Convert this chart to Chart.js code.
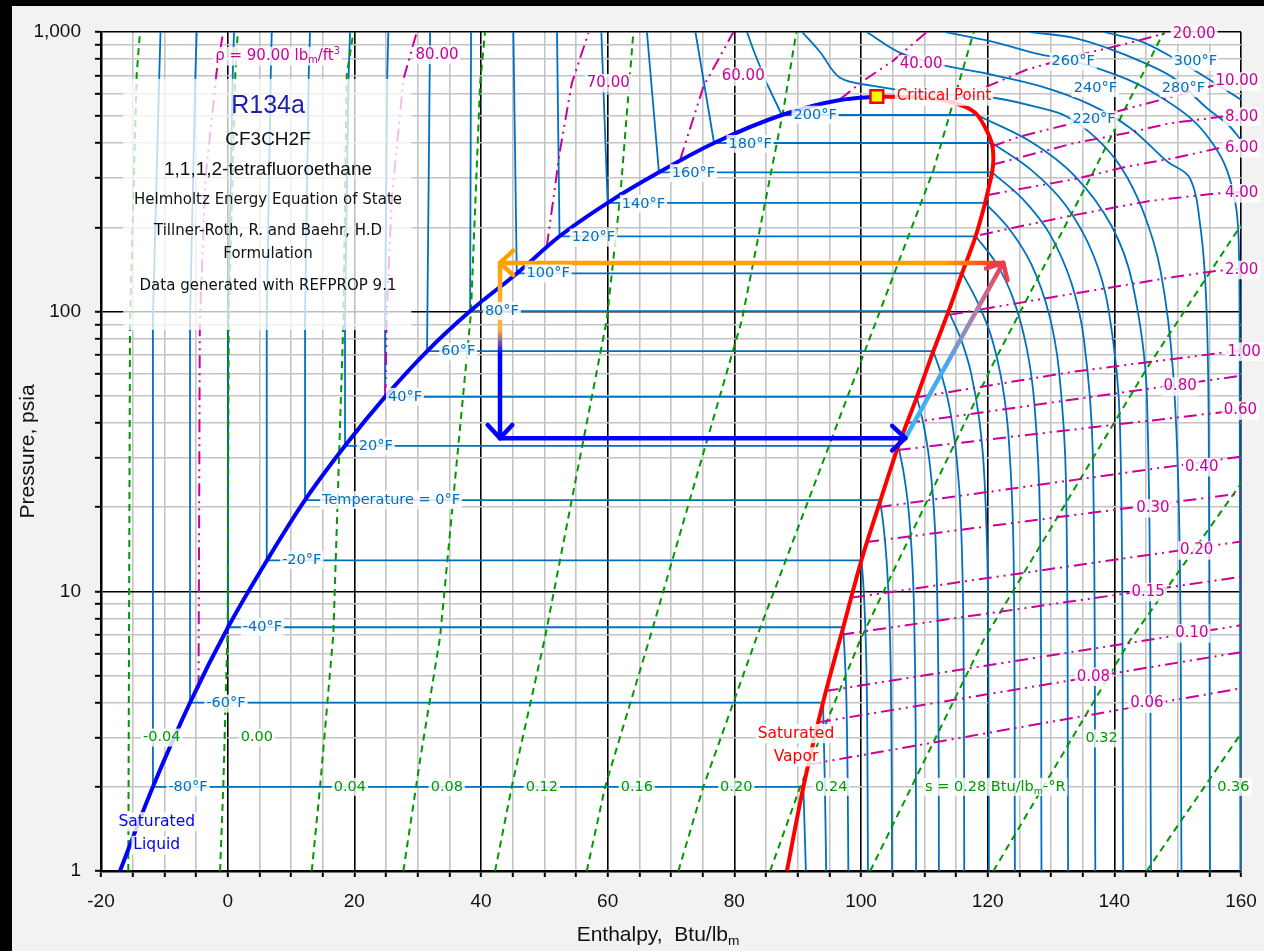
<!DOCTYPE html>
<html>
<head>
<meta charset="utf-8">
<script src="https://cdn.jsdelivr.net/npm/chart.js@4.4.1/dist/chart.umd.min.js"></script>
<style>
html, body { margin: 0; padding: 0; background: #000; }
#wrap { position: absolute; left: 12px; top: 6px; width: 1252px; height: 945px; background: #f2f2f2; }
</style>
</head>
<body>
<div id="wrap"><canvas id="myChart" width="1252" height="945"></canvas></div>
<script>
// axis ticks
const hTicks = [-20,-15,-10,-5,0,5,10,15,20,25,30,35,40,45,50,55,60,65,70,75,80,85,90,95,100,105,110,115,120,125,130,135,140,145,150,155,160];
const pTicks = [1,2,3,4,5,6,7,8,9,10,20,30,40,50,60,70,80,90,100,200,300,400,500,600,700,800,900,1000];
const pTickLabels = {1: '1', 10: '10', 100: '100', 1000: '1,000'};

// saturation dome (h in Btu/lbm, P in psia)
const satLiqH = [-17.0,-11.8,-5.94,0.06,6.2,12.2,18.5,24.85,31.5,38.3,45.65,52.4,60.0,68.1,76.8,87.5,96.7,102.5];
const satLiqP = [1,2.0,4.0,7.44,12.9,21.2,33.1,49.6,72.3,100.5,137,186,245,315,401,505,571,588];
const satVapH = [102.5,108,112.5,116.2,118.3,119.9,120.7,120.9,120.7,120.2,119.6,118.1,116.0,113.8,111.4,108.8,105.9,103.0,100.1,97.2,94.0,90.9,88.3];
const satVapP = [588,585,574,543,507,442,396,350,315,280,245,186,138,100,72,49.4,33.1,20.9,13.0,7.44,4.0,2.0,1];
const critH = 102.5, critP = 588;

// isotherms below the critical point: liquid branch, then superheated branch
const isoT = [-80,-60,-40,-20,0,20,40,60,80,100,120,140,160,180,200];
const isoTLiqH = [
  [-10.6,-10.8,-11.8,-11.8], [-4.89,-5.1,-5.94,-5.94], [1.0,0.8,0.06,0.06], [6.96,6.8,6.17,6.17],
  [13.0,12.8,12.22,12.22], [19.32,19.1,18.53,18.53], [25.37,25.2,24.85,24.85],
  [31.96,31.48], [38.43,38.28], [45.11,45.65], [52.0,52.4], [59.0,60.0], [66.2,68.1], [73.86,76.8],
  [82.0,83.0,85.1,87.5]
];
const isoTLiqP = [
  [1000,700,95,2.0], [1000,700,95,4.0], [1000,700,95,7.44], [1000,700,95,12.9],
  [1000,700,95,21.2], [1000,700,95,33.1], [1000,700,95,49.6],
  [1000,72.3], [1000,100.5], [1000,137], [1000,186], [1000,245], [1000,315], [1000,401],
  [1000,864,656,505]
];
const isoTSupH = [
  [90.9,91.3], [94.0,94.3,94.5], [97.2,97.65,97.9,98.0],
  [100.1,100.4,100.66,100.87,100.99,101.1],
  [103.0,103.57,104.06,104.46,104.69,104.85,104.9],
  [105.9,106.74,107.47,108.06,108.39,108.63,108.7],
  [108.8,109.85,110.76,111.5,111.92,112.21,112.3],
  [111.4,112.87,114.14,115.17,115.77,116.18,116.3],
  [113.8,115.72,117.38,118.73,119.5,120.04,120.2],
  [116.0,118.28,120.52,122.32,123.36,124.09,124.3],
  [118.1,121.36,124.01,126.15,127.39,128.25,128.5],
  [119.6,123.53,126.94,129.69,131.27,132.37,132.7],
  [120.7,125.59,129.83,133.25,135.22,136.59,137.0],
  [120.7,126.91,132.29,136.64,139.14,140.88,141.4],
  [118.3,126.9,133.92,139.59,142.86,145.13,145.8]
];
const isoTSupP = [
  [2.0,1], [4.0,2,1], [7.44,4.5,2,1],
  [12.9,10.3,7.7,5.2,3.2,1],
  [21.2,17,12.7,8.5,5.3,2.1,1],
  [33.1,26.5,19.9,13.2,8.3,3.3,1],
  [49.6,39.7,29.8,19.8,12.4,5,1],
  [72.3,57.8,43.4,28.9,18.1,7.2,1],
  [100.5,80.4,60.3,40.2,25.1,10.1,1],
  [137,109.6,82.2,54.8,34.3,13.7,1],
  [186,148.8,111.6,74.4,46.5,18.6,1],
  [245,196,147,98,61.3,24.5,1],
  [315,252,189,126,78.8,31.5,1],
  [401,320.8,240.6,160.4,100.3,40.1,1],
  [505,404,303,202,126.3,50.5,1]
];

// supercritical isotherms
const superT = [220,240,260,280,300];
const superH = [
  [90.7,93.5,96.7,101.9,110,120.9,128.3,132.4,137,141,144.5,147.3,149.3,150.3,150.6],
  [100.9,106.2,112.5,120.4,128.3,136.2,142.5,148.3,151.9,153.6,154.5,154.9,155.1],
  [113.3,120.4,128.3,133.6,141.5,146.7,152.0,155.5,157.8,159.3,159.7,159.8,159.9],
  [126.7,133.6,138.8,144.1,149.35,154.6,158,160],
  [138.3,144.1,149.3,154.6,160]
];
const superP = [
  [1000,850,686,642,605,582,535,500,420,330,230,140,60,15,1],
  [1000,842,765,705,640,550,454,345,301,200,110,40,1],
  [1000,927,831,787,685,597,493,400,320,230,150,50,1],
  [1000,953,878,787,685,535,465,411],
  [1000,927,808,685,573]
];

// isentropes, s in Btu/lbm-R
const entS = [-0.04,0.00,0.04,0.08,0.12,0.16,0.20,0.24,0.28,0.32,0.36];
const entH = [
  [-15.69,-15.42,-14.36,-13.84],
  [-1.2,-0.69,0.0,0.17,1.2,1.6],
  [13.28,14.59,16.69,18.27,18.8,19.85],
  [27.74,30.38,33.54,38.4,39.86,40.64],
  [42.22,44.86,50.12,59.86,62.0,64.06],
  [56.7,59.6,66.7,81.2,87.75,89.8],
  [71.17,75.1,83.55,99.87,111.45,117.8],
  [85.65,90.4,96.2,99.87,120.9,136.5,147.8],
  [101.45,119.35,145.15,160],
  [120.9,142.5,160],
  [145.1,160]
];
const entP = [
  [1,92,710,1000],
  [1,2,7.4,95,700,1000],
  [1,2,7.06,92,700,1000],
  [1,2.49,6.87,98,656,1000],
  [1,2,6.87,93.4,261,1000],
  [1,2,6.87,93.4,527,1000],
  [1,2,6.87,65.4,321,1000],
  [1,2,4.19,6.69,65.4,310,1000],
  [1,6.69,62.8,204],
  [1,6.69,24.3],
  [1,3.1]
];

// isochores, rho in lbm/ft3
const rhoV = [90,80,70,60,40,20,10,8,6,4,2,1,0.8,0.6,0.4,0.3,0.2,0.15,0.10,0.08,0.06];
const rhoH = [
  [-4.6,-4.4,-3.5,-1.73,-0.7],
  [24.9,25.12,25.9,27.74,29.86],
  [50.39,52.49,54.34,56.96],
  [71.44,75.12,79.86],
  [96.7,100.4,105.1,110.4],
  [115.1,126.2,134.6,142.5,148.8],
  [120.7,125.1,133.5,141.4,149.3,156.2,158.5],
  [120.7,125.65,133.55,141.98,148.82,157.24,159.35],
  [119.9,125.65,133.55,141.98,149.35,156.2,160],
  [118.8,132.5,145.67,155.7,160],
  [114.1,133.55,149.35,156.2,160],
  [108.8,133.55,158.3,160],
  [107.3,160], [105.8,160], [102.8,160], [100.8,160], [98.6,160],
  [96.9,160], [94.4,160], [93.2,160], [91.6,160]
];
const rhoP = [
  [4.5,90,300,725,1000],
  [49.5,98.6,251,675,1000],
  [171,379,656,991],
  [349,638,1000],
  [575,670,790,1000],
  [574,734,830,915,1000],
  [390,423,472,527,588,649,665],
  [335,358.6,400,435,472,499,505],
  [261,276,297,330,354,383,390],
  [188,219,249,264,268],
  [97.6,116,133,140,142],
  [49.4,61.0,71.9,73],
  [40,59], [32,44.5], [20,30.3], [15,22.4], [9.5,15.06],
  [7.0,11.27], [4.4,7.56], [3.4,6.06], [2.4,4.5]
];

// refrigeration cycle: condenser, expansion, evaporator, compressor
const cycleH = [122.45,43.0,43.0,107.0,122.45];
const cycleP = [149.4,149.4,35.3,35.3,149.4];

// labels
const tLabelText = ['-80°F','-60°F','-40°F','-20°F','Temperature = 0°F','20°F','40°F','60°F','80°F','100°F','120°F','140°F','160°F','180°F','200°F','220°F','240°F','260°F','280°F','300°F'];
const tLabelH = [-6.26,-0.26,5.5,11.7,25.8,23.4,28.0,36.4,43.3,50.6,57.75,65.65,73.54,82.5,92.76,136.8,137.0,133.5,150.9,152.8];
const tLabelP = [2.0,3.97,7.46,12.95,21.2,33,49.6,72,100.7,137,184,243,313,398,506,486,630,783,630,783];

const sLabelText = ['-0.04','0.00','0.04','0.08','0.12','0.16','0.20','0.24','s = 0.28 Btu/lb_m-°R','0.32','0.36'];
const sLabelH = [-10.4,4.6,19.3,34.6,49.6,64.6,80.3,95.3,121.2,138.0,158.8];
const sLabelP = [3.0,3.0,2.0,2.0,2.0,2.0,2.0,2.0,2.0,2.98,2.0];

const rhoLabelText = ['ρ = 90.00 lb_m/ft^3','80.00','70.00','60.00','40.00','20.00','10.00','8.00','6.00','4.00','2.00','1.00','0.80','0.60','0.40','0.30','0.20','0.15','0.10','0.08','0.06'];
const rhoLabelH = [7.87,33.06,60.1,81.4,109.5,152.6,159.35,160.1,160.1,160.1,160.1,160.5,150.4,159.9,153.8,146.1,153.0,145.35,152.25,136.7,145.15];
const rhoLabelP = [819,829,656,693,765,980,665,498,384,265,141,71.9,54,44.3,27.8,19.8,14.0,9.94,7.07,4.95,3.97];

const infoText = ['R134a','CF3CH2F','1,1,1,2-tetrafluoroethane','Helmholtz Energy Equation of State','Tillner-Roth, R. and Baehr, H.D','Formulation','Data generated with REFPROP 9.1'];
const infoP = [545,412,322,251,194,160,123];

const pts = (H, P) => H.map((h, i) => ({ x: h, y: P[i] }));
const FAM = '"DejaVu Sans", sans-serif';
const ARIAL = '"Liberation Sans", Arial, sans-serif';
const ISO_BLUE = '#0070C0';

const datasets = [];
const addLine = (data, opts) => datasets.push(Object.assign({ data, pointRadius: 0, borderWidth: 1.8, fill: false, tension: 0 }, opts));

isoT.forEach((t, i) => {
  const liq = pts(isoTLiqH[i], isoTLiqP[i]);
  liq.push({ x: isoTSupH[i][0], y: isoTSupP[i][0] });
  addLine(liq, { borderColor: ISO_BLUE, order: 5 });
  addLine(pts(isoTSupH[i], isoTSupP[i]), { borderColor: ISO_BLUE, tension: 0.35, order: 5 });
});
superT.forEach((t, i) => {
  addLine(pts(superH[i], superP[i]), { borderColor: ISO_BLUE, tension: 0.35, order: 5 });
});
entS.forEach((s, i) => {
  addLine(pts(entH[i], entP[i]), { borderColor: '#009a00', borderWidth: 2, borderDash: [7, 5], order: 4 });
});
rhoV.forEach((r, i) => {
  addLine(pts(rhoH[i], rhoP[i]), { borderColor: '#cc0099', borderWidth: 2, borderDash: [13, 5, 2, 5, 2, 5], order: 3 });
});
addLine(pts(satLiqH, satLiqP), { borderColor: '#0000ff', borderWidth: 4, cubicInterpolationMode: 'monotone', order: 2 });
addLine(pts(satVapH, satVapP), { borderColor: '#ff0000', borderWidth: 4, tension: 0.3, order: 2 });

const cycleStops = [
  [[0, '#ff2a2a'], [0.12, '#ffa000'], [1, '#ffa000']],
  [[0, '#ffa000'], [0.38, '#ffb347'], [0.52, '#0000ff'], [1, '#0000ff']],
  [[0, '#0000ff'], [1, '#0000ff']],
  [[0, '#3cb8f4'], [0.4, '#4aa8ec'], [0.72, '#b57ea8'], [1, '#f03c50']]
];
for (let i = 0; i < 4; i++) {
  addLine(pts(cycleH.slice(i, i + 2), cycleP.slice(i, i + 2)), {
    borderWidth: 4.5, order: 1, borderCapStyle: 'round',
    borderColor: (c) => {
      const ch = c.chart;
      if (!ch.chartArea) return cycleStops[i][0][1];
      const { x, y } = ch.scales;
      const g = ch.ctx.createLinearGradient(
        x.getPixelForValue(cycleH[i]), y.getPixelForValue(cycleP[i]),
        x.getPixelForValue(cycleH[i + 1]), y.getPixelForValue(cycleP[i + 1]));
      cycleStops[i].forEach(([o, col]) => g.addColorStop(o, col));
      return g;
    }
  });
}
datasets.push({
  data: [{ x: critH, y: critP }], showLine: false, order: 0,
  pointStyle: 'rect', pointRadius: 9, pointBackgroundColor: '#ffff00',
  pointBorderColor: '#ff0000', pointBorderWidth: 2.5
});

function richParts(text) {
  const parts = [];
  for (let i = 0; i < text.length; i++) {
    const c = text[i];
    if ((c === '_' || c === '^') && i + 1 < text.length) {
      parts.push({ t: text[i + 1], k: c });
      i++;
    } else if (parts.length && parts[parts.length - 1].k === '') {
      parts[parts.length - 1].t += c;
    } else {
      parts.push({ t: c, k: '' });
    }
  }
  return parts;
}

function drawText(ctx, text, x, y, size, family, color, align, bg) {
  const parts = richParts(text);
  let w = 0;
  parts.forEach(p => {
    ctx.font = (p.k ? size * 0.65 : size) + 'px ' + family;
    p.w = ctx.measureText(p.t).width;
    w += p.w;
  });
  let x0 = align === 'left' ? x : x - w / 2;
  if (bg) {
    ctx.fillStyle = bg;
    ctx.fillRect(x0 - 2, y - size * 0.62, w + 4, size * 1.24);
  }
  ctx.fillStyle = color;
  ctx.textBaseline = 'middle';
  ctx.textAlign = 'left';
  parts.forEach(p => {
    const s = p.k ? size * 0.65 : size;
    ctx.font = s + 'px ' + family;
    const dy = p.k === '_' ? size * 0.3 : p.k === '^' ? -size * 0.3 : 0;
    ctx.fillText(p.t, x0, y + dy);
    x0 += p.w;
  });
}

function chevron(ctx, x0, y0, x1, y1, color) {
  const ang = Math.atan2(y1 - y0, x1 - x0), L = 18, s = 0.75;
  ctx.strokeStyle = color;
  ctx.lineWidth = 4.5;
  ctx.lineCap = 'round';
  ctx.lineJoin = 'round';
  ctx.beginPath();
  ctx.moveTo(x1 - L * Math.cos(ang - s), y1 - L * Math.sin(ang - s));
  ctx.lineTo(x1, y1);
  ctx.lineTo(x1 - L * Math.cos(ang + s), y1 - L * Math.sin(ang + s));
  ctx.stroke();
}

const overlay = {
  id: 'overlay',
  beforeDraw(chart) {
    const { ctx, chartArea: a } = chart;
    ctx.save();
    ctx.fillStyle = '#f2f2f2';
    ctx.fillRect(0, 0, chart.width, chart.height);
    ctx.fillStyle = '#ffffff';
    ctx.fillRect(a.left, a.top, a.right - a.left, a.bottom - a.top);
    ctx.restore();
  },
  afterDatasetsDraw(chart) {
    const { ctx, scales: { x, y } } = chart;
    const X = h => x.getPixelForValue(h), Y = p => y.getPixelForValue(p);
    ctx.save();

    // info box
    ctx.fillStyle = 'rgba(255,255,255,0.75)';
    ctx.fillRect(X(-16.5), Y(680), X(29) - X(-16.5), Y(86) - Y(680));
    const cx = X(6.37);
    drawText(ctx, infoText[0], cx, Y(infoP[0]), 25, ARIAL, '#1f1fa8', 'center');
    drawText(ctx, infoText[1], cx, Y(infoP[1]), 19, ARIAL, '#111', 'center');
    drawText(ctx, infoText[2], cx, Y(infoP[2]), 19, ARIAL, '#111', 'center');
    for (let i = 3; i < infoText.length; i++) {
      drawText(ctx, infoText[i], cx, Y(infoP[i]), 15, FAM, '#111', 'center');
    }

    // cycle arrow heads
    chevron(ctx, X(cycleH[0]), Y(cycleP[0]), X(cycleH[1]), Y(cycleP[1]), '#ffa000');
    chevron(ctx, X(cycleH[1]), Y(cycleP[1]), X(cycleH[2]), Y(cycleP[2]), '#0000ff');
    chevron(ctx, X(cycleH[2]), Y(cycleP[2]), X(cycleH[3]), Y(cycleP[3]), '#0000ff');
    chevron(ctx, X(cycleH[3]), Y(cycleP[3]), X(cycleH[4]), Y(cycleP[4]), '#f03c50');

    const bg = 'rgba(255,255,255,0.82)';
    tLabelText.forEach((t, i) => drawText(ctx, t, X(tLabelH[i]), Y(tLabelP[i]), 14.5, FAM, ISO_BLUE, 'center', bg));
    sLabelText.forEach((t, i) => drawText(ctx, t, X(sLabelH[i]), Y(sLabelP[i]), 14.5, FAM, '#009a00', 'center', bg));
    rhoLabelText.forEach((t, i) => drawText(ctx, t, X(rhoLabelH[i]), Y(rhoLabelP[i]), 15, FAM, '#cc0099', 'center', bg));

    drawText(ctx, 'Critical Point', X(105.66), Y(critP), 15, FAM, '#ff0000', 'left', bg);
    drawText(ctx, 'Saturated', X(-11.2), Y(1.50), 15.5, FAM, '#0000ff', 'center', bg);
    drawText(ctx, 'Liquid', X(-11.2), Y(1.235), 15.5, FAM, '#0000ff', 'center', bg);
    drawText(ctx, 'Saturated', X(89.73), Y(3.1), 15.5, FAM, '#ff0000', 'center', bg);
    drawText(ctx, 'Vapor', X(89.73), Y(2.56), 15.5, FAM, '#ff0000', 'center', bg);
    ctx.restore();
  },
  afterDraw(chart) {
    const { ctx, chartArea: a } = chart;
    ctx.save();
    drawText(ctx, 'Enthalpy,  Btu/lb_m', (a.left + a.right) / 2 - 13, 929, 21, ARIAL, '#111', 'center');
    ctx.translate(16, (a.top + a.bottom) / 2);
    ctx.rotate(-Math.PI / 2);
    drawText(ctx, 'Pressure, psia', 0, 0, 21, ARIAL, '#111', 'center');
    ctx.restore();
  }
};

const isMajorP = v => v === 1 || v === 10 || v === 100 || v === 1000;

new Chart(document.getElementById('myChart').getContext('2d'), {
  type: 'line',
  data: { datasets },
  options: {
    responsive: false,
    animation: false,
    events: [],
    layout: { padding: { left: 0, right: 23, top: 26, bottom: 0 } },
    plugins: { legend: { display: false }, tooltip: { enabled: false } },
    scales: {
      x: {
        type: 'linear', min: -20, max: 160,
        afterBuildTicks: s => { s.ticks = hTicks.map(v => ({ value: v })); },
        afterFit: s => { s.height = 80; s.paddingLeft = 0; s.paddingRight = 0; },
        ticks: {
          autoSkip: false, maxRotation: 0, padding: 13, color: '#111',
          font: { family: ARIAL, size: 19 },
          callback: v => (v % 20 === 0 ? String(v) : '')
        },
        grid: {
          color: c => (c.tick && c.tick.value % 20 === 0 ? '#000' : '#c4c4c4'),
          lineWidth: 1.6, tickColor: '#000', tickLength: 6, tickWidth: 2
        },
        border: { display: true, color: '#000', width: 2.5 }
      },
      y: {
        type: 'logarithmic', min: 1, max: 1000,
        afterBuildTicks: s => { s.ticks = pTicks.map(v => ({ value: v })); },
        afterFit: s => { s.width = 89; s.paddingTop = 0; s.paddingBottom = 0; },
        ticks: {
          autoSkip: false, padding: 14, color: '#111',
          font: { family: ARIAL, size: 19 },
          callback: v => pTickLabels[v] || ''
        },
        grid: {
          color: c => (c.tick && isMajorP(c.tick.value) ? '#000' : '#c4c4c4'),
          lineWidth: 1.6, tickColor: '#000', tickLength: 6, tickWidth: 2
        },
        border: { display: true, color: '#000', width: 2.5 }
      }
    }
  },
  plugins: [overlay]
});
</script>
</body>
</html>
